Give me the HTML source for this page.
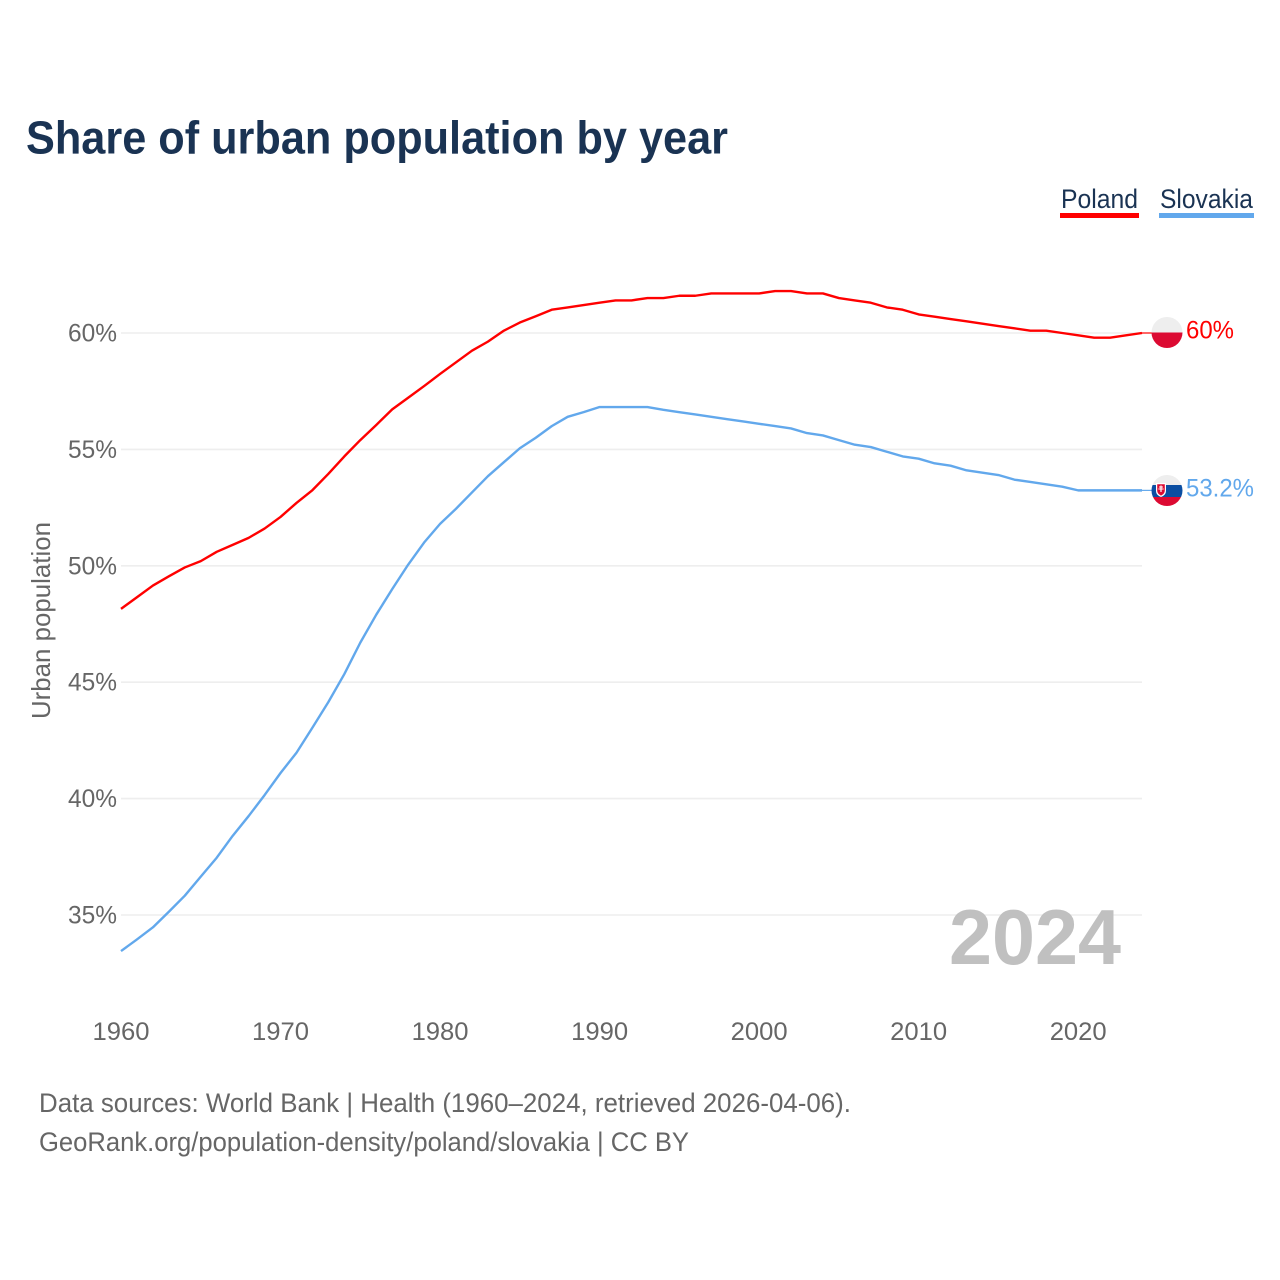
<!DOCTYPE html>
<html lang="en">
<head>
<meta charset="utf-8">
<title>Share of urban population by year</title>
<style>
html,body{margin:0;padding:0;background:#fff;width:1280px;height:1280px;overflow:hidden}
svg{display:block}
text{font-family:"Liberation Sans",sans-serif}
</style>
</head>
<body>
<svg id="chart" xmlns="http://www.w3.org/2000/svg" width="1280" height="1280" viewBox="0 0 1280 1280">
  <text x="26" y="153.5" font-size="46" font-weight="700" fill="#1a3353" textLength="702" lengthAdjust="spacingAndGlyphs">Share of urban population by year</text>
  <text x="1061" y="208" font-size="27" fill="#1a3353" textLength="77" lengthAdjust="spacingAndGlyphs">Poland</text>
  <rect x="1060" y="213" width="79" height="5" fill="#ff0000"/>
  <text x="1160" y="208" font-size="27" fill="#1a3353" textLength="93" lengthAdjust="spacingAndGlyphs">Slovakia</text>
  <rect x="1159" y="213" width="95" height="5" fill="#62a8ec"/>
  <g id="grid"></g>
  <g id="yticks"></g>
  <g id="xticks"></g>
  <text transform="translate(50,620.5) rotate(-90)" text-anchor="middle" font-size="26" fill="#666666" textLength="197" lengthAdjust="spacingAndGlyphs">Urban population</text>
  <text x="949" y="964" font-size="78" font-weight="700" fill="#c0c0c0" textLength="172" lengthAdjust="spacingAndGlyphs">2024</text>
  <g id="series"></g>
  <g>
    <clipPath id="clip-pl"><circle cx="1167" cy="332.5" r="15.5"/></clipPath>
    <g clip-path="url(#clip-pl)">
      <rect x="1150" y="316" width="34" height="17" fill="#eeeeee"/>
      <rect x="1150" y="332.5" width="34" height="17" fill="#dc0a32"/>
    </g>
  </g>
  <g>
    <clipPath id="clip-sk"><circle cx="1167" cy="490.5" r="15.5"/></clipPath>
    <g clip-path="url(#clip-sk)">
      <rect x="1150" y="474" width="34" height="11" fill="#eeeeee"/>
      <rect x="1150" y="485" width="34" height="12" fill="#0b4ea2"/>
      <rect x="1150" y="497" width="34" height="10" fill="#dc0a32"/>
      <path d="M1156 483h10v8q0 4-5 6q-5-2-5-6z" fill="#ffffff"/>
      <path d="M1157.2 484.2h7.6v6.6q0 3-3.8 4.8q-3.8-1.8-3.8-4.8z" fill="#dc0a32"/>
      <path d="M1160.4 485.5h1.2v1h1.4v1h-1.4v1h2v1h-2v2.5h-1.2v-2.5h-2v-1h2v-1h-1.4v-1h1.4z" fill="#ffffff"/>
    </g>
  </g>
  <text id="end-label-poland" x="1186" y="338.5" font-size="25" fill="#ff0000" textLength="48" lengthAdjust="spacingAndGlyphs"></text>
  <text id="end-label-slovakia" x="1186" y="496.5" font-size="25" fill="#62a8ec" textLength="68" lengthAdjust="spacingAndGlyphs"></text>
  <text x="39" y="1112" font-size="27" fill="#666666" textLength="812" lengthAdjust="spacingAndGlyphs">Data sources: World Bank | Health (1960–2024, retrieved 2026-04-06).</text>
  <text x="39" y="1151" font-size="27" fill="#666666" textLength="650" lengthAdjust="spacingAndGlyphs">GeoRank.org/population-density/poland/slovakia | CC BY</text>
</svg>
<script>
const years = [1960,1961,1962,1963,1964,1965,1966,1967,1968,1969,1970,1971,1972,1973,1974,1975,1976,1977,1978,1979,1980,1981,1982,1983,1984,1985,1986,1987,1988,1989,1990,1991,1992,1993,1994,1995,1996,1997,1998,1999,2000,2001,2002,2003,2004,2005,2006,2007,2008,2009,2010,2011,2012,2013,2014,2015,2016,2017,2018,2019,2020,2021,2022,2023,2024];
const polandValues = [48.15,48.65,49.15,49.55,49.93,50.2,50.6,50.9,51.2,51.6,52.1,52.7,53.25,53.95,54.7,55.4,56.05,56.72,57.22,57.72,58.24,58.74,59.24,59.63,60.1,60.45,60.72,61.0,61.1,61.2,61.3,61.4,61.4,61.5,61.5,61.6,61.6,61.7,61.7,61.7,61.7,61.8,61.8,61.7,61.7,61.5,61.4,61.3,61.1,61.0,60.8,60.7,60.6,60.5,60.4,60.3,60.2,60.1,60.1,60.0,59.9,59.8,59.8,59.9,60.0];
const slovakiaValues = [33.45,33.95,34.47,35.14,35.83,36.65,37.46,38.4,39.25,40.15,41.1,41.97,43.05,44.15,45.35,46.7,47.9,49.0,50.05,51.0,51.8,52.45,53.15,53.85,54.45,55.05,55.5,56.0,56.4,56.6,56.82,56.82,56.82,56.82,56.7,56.6,56.5,56.4,56.3,56.2,56.1,56.0,55.9,55.7,55.6,55.4,55.2,55.1,54.9,54.7,54.6,54.4,54.3,54.1,54.0,53.9,53.7,53.6,53.5,53.4,53.24,53.24,53.24,53.24,53.24];
const yTickValues = [35,40,45,50,55,60];
const xTickValues = [1960,1970,1980,1990,2000,2010,2020];
const polandEndLabel = "60%";
const slovakiaEndLabel = "53.2%";

const SVG_NS = "http://www.w3.org/2000/svg";
function xScale(year){ return 121 + (year - 1960) * (1021 / 64); }
function yScale(value){ return 333 + (60 - value) * 23.28; }
function linePath(values){
  return values.map(function(v,i){ return (i ? "L" : "M") + xScale(years[i]).toFixed(2) + " " + yScale(v).toFixed(2); }).join("");
}
const grid = document.getElementById("grid");
const yticks = document.getElementById("yticks");
const xticks = document.getElementById("xticks");
const series = document.getElementById("series");

yTickValues.forEach(function(v){
  const line = document.createElementNS(SVG_NS,"line");
  
  
  line.setAttribute("x1", xScale(1960));
  line.setAttribute("x2", xScale(2024));
  line.setAttribute("y1", yScale(v));
  line.setAttribute("y2", yScale(v));
  line.setAttribute("stroke", "#eeeeee");
  line.setAttribute("stroke-width", "1.6");
  grid.appendChild(line);
  const t = document.createElementNS(SVG_NS,"text");
  
  
  t.setAttribute("x", 68);
  t.setAttribute("y", yScale(v) + 8.5);
  t.setAttribute("font-size", "25");
  t.setAttribute("fill", "#666666");
  t.setAttribute("textLength", "49");
  t.setAttribute("lengthAdjust", "spacingAndGlyphs");
  t.textContent = v + "%";
  yticks.appendChild(t);
});
xTickValues.forEach(function(y){
  const t = document.createElementNS(SVG_NS,"text");
  
  
  t.setAttribute("x", xScale(y) - 28.5);
  t.setAttribute("y", 1040);
  t.setAttribute("font-size", "25");
  t.setAttribute("fill", "#666666");
  t.setAttribute("textLength", "57");
  t.setAttribute("lengthAdjust", "spacingAndGlyphs");
  t.textContent = y;
  xticks.appendChild(t);
});
function drawSeries(values, color, name){
  const p = document.createElementNS(SVG_NS,"path");
  
  
  p.setAttribute("d", linePath(values));
  p.setAttribute("fill", "none");
  p.setAttribute("stroke", color);
  p.setAttribute("stroke-width", "2.4");
  p.setAttribute("stroke-linejoin", "round");
  series.appendChild(p);
  const lastY = yScale(values[values.length - 1]);
  const c = document.createElementNS(SVG_NS,"line");
  
  
  c.setAttribute("x1", xScale(2024));
  c.setAttribute("x2", xScale(2024) + 10);
  c.setAttribute("y1", lastY);
  c.setAttribute("y2", lastY);
  c.setAttribute("stroke", color);
  c.setAttribute("stroke-width", "1.2");
  series.appendChild(c);
}
drawSeries(polandValues, "#ff0000", "line-poland");
drawSeries(slovakiaValues, "#62a8ec", "line-slovakia");
document.getElementById("end-label-poland").textContent = polandEndLabel;
document.getElementById("end-label-slovakia").textContent = slovakiaEndLabel;
</script>
</body>
</html>
